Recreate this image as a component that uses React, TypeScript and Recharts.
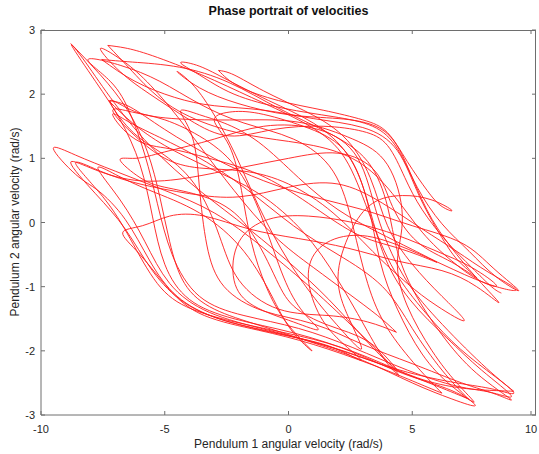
import { LineChart, Line, XAxis, YAxis } from 'recharts';

type Pt = [number, number];

const xTicks = [-10, -5, 0, 5, 10];
const yTicks = [-3, -2, -1, 0, 1, 2, 3];

// trajectory, split into consecutive pieces
const swingA: Pt[] = [
  [-8.8, 2.79], [-7.6, 2.3], [-6.5, 1.75], [-5.7, 1.1], [-5.2, 0.4], [-4.8, -0.3], [-4.2, -0.95], [-3.0, -1.35],
  [-1.2, -1.6], [0.8, -1.85], [3.0, -2.15], [5.0, -2.5], [6.6, -2.75], [7.55, -2.85],
  [6.6, -2.55], [5.4, -2.05], [4.4, -1.35], [3.7, -0.6], [3.2, 0.3], [2.4, 1.05], [1.0, 1.55], [-0.8, 1.9],
  [-2.6, 2.25], [-3.7, 2.45], [-4.36, 2.49],
  [-3.6, 2.3], [-2.2, 2.0], [-0.2, 1.78], [1.8, 1.65], [3.4, 1.5], [4.4, 1.15], [5.2, 0.55], [6.2, -0.02],
  [7.3, -0.45], [8.4, -0.85], [9.3, -1.06],
  [8.3, -0.72], [7.0, -0.32], [5.0, -0.05], [3.0, 0.2], [1.0, 0.4], [-1.0, 0.65], [-3.0, 1.0], [-5.0, 1.45],
  [-6.4, 1.8], [-7.27, 1.9],
];

const swingB: Pt[] = [
  [-7.27, 1.9], [-6.3, 1.55], [-5.0, 1.2], [-3.2, 0.85], [-1.2, 0.45], [0.6, -0.15], [2.0, -0.9], [3.2, -1.7],
  [4.0, -2.2], [4.44, -2.37],
  [3.6, -2.0], [2.4, -1.55], [1.0, -1.05], [-1.0, -0.4], [-3.0, 0.15], [-5.0, 0.5], [-7.0, 0.8], [-8.6, 1.05],
  [-9.5, 1.15],
  [-8.6, 0.75], [-7.7, 0.5], [-6.6, 0.05], [-5.6, -0.6], [-4.5, -1.15], [-2.8, -1.5], [-0.5, -1.72], [2.0, -1.98],
  [4.5, -2.3], [6.8, -2.5], [8.3, -2.6], [9.1, -2.65],
  [8.0, -2.3], [6.6, -1.85], [5.2, -1.25], [4.0, -0.55], [3.0, 0.4], [2.0, 1.15], [0.4, 1.6], [-1.5, 1.95],
  [-3.5, 2.3], [-5.5, 2.6], [-6.6, 2.72], [-7.3, 2.76],
];

const swingC: Pt[] = [
  [-7.3, 2.76], [-6.3, 2.35], [-4.9, 1.85], [-3.0, 1.5], [-1.0, 1.32], [1.0, 1.2], [2.8, 0.95], [4.2, 0.45],
  [5.4, -0.15], [6.6, -0.6], [7.7, -0.9], [8.4, -0.98],
  [7.4, -0.7], [6.0, -0.45], [4.4, -0.2], [2.6, 0.0], [0.8, 0.1], [-0.8, 0.05], [-2.0, -0.3], [-2.2, -0.9],
  [-1.4, -1.3], [0.2, -1.55], [1.2, -1.67],
  [0.6, -1.4], [-0.2, -0.85], [-1.0, 0.0], [-2.0, 0.8], [-3.4, 1.3], [-5.0, 1.6], [-6.3, 1.72], [-7.1, 1.74],
  [-6.2, 1.35], [-5.0, 1.0], [-3.6, 0.85], [-1.8, 0.8], [0.0, 0.6], [1.8, 0.15], [3.4, -0.45], [4.8, -0.95],
  [6.0, -1.3], [7.1, -1.53],
  [6.2, -1.15], [5.0, -0.65], [4.0, -0.05], [3.3, 0.7], [2.2, 1.35], [0.6, 1.75], [-1.0, 2.05], [-2.2, 2.3],
  [-2.83, 2.37],
];

const swingD: Pt[] = [
  [-2.83, 2.37], [-2.0, 2.12], [-0.4, 1.9], [1.4, 1.75], [3.0, 1.6], [4.0, 1.4], [4.8, 0.95], [5.6, 0.5],
  [6.2, 0.25], [6.6, 0.19],
  [5.8, 0.35], [4.6, 0.42], [3.4, 0.3], [2.5, -0.15], [2.0, -0.85], [2.45, -1.5], [2.95, -1.97],
  [2.2, -1.7], [1.2, -1.25], [0.0, -0.6], [-1.2, 0.25], [-2.2, 1.1], [-3.2, 1.8], [-4.0, 2.2], [-4.5, 2.35],
  [-3.6, 2.1], [-2.0, 1.85], [0.0, 1.68], [2.0, 1.62], [3.4, 1.52], [4.3, 1.25], [5.0, 0.7], [5.8, 0.05],
  [6.8, -0.5], [7.8, -0.95], [8.5, -1.25],
  [7.6, -1.0], [6.2, -0.75], [4.4, -0.6], [2.4, -0.4], [0.4, -0.25], [-1.6, -0.1], [-3.4, 0.1], [-4.8, 0.1],
  [-5.9, -0.05], [-6.7, -0.16],
  [-6.0, -0.5], [-4.8, -1.05], [-3.4, -1.45], [-1.2, -1.68], [1.0, -1.9], [3.4, -2.22], [5.2, -2.5], [6.2, -2.66],
];

const swingE: Pt[] = [
  [6.2, -2.66], [5.2, -2.25], [4.0, -1.65], [3.2, -0.95], [2.6, -0.05], [1.8, 0.8], [0.2, 1.3], [-1.8, 1.55],
  [-3.6, 1.85], [-5.2, 2.2], [-6.8, 2.45], [-8.1, 2.54],
  [-7.2, 2.2], [-6.4, 1.7], [-5.8, 1.05], [-5.3, 0.3], [-4.7, -0.5], [-3.6, -1.15], [-1.8, -1.45], [0.4, -1.65],
  [2.6, -1.95], [4.8, -2.3], [6.8, -2.55], [8.2, -2.65], [9.0, -2.7],
  [7.8, -2.3], [6.4, -1.8], [4.9, -1.2], [3.8, -0.45], [3.1, 0.45], [2.2, 1.15], [0.6, 1.5], [-1.2, 1.7],
  [-2.4, 1.72], [-3.0, 1.59],
  [-2.4, 1.2], [-1.9, 0.5], [-1.5, -0.3], [-0.9, -1.0], [0.0, -1.6], [0.95, -2.0],
  [0.2, -1.72], [-0.6, -1.2], [-1.8, -0.45], [-3.6, 0.15], [-5.6, 0.5], [-7.0, 0.75], [-7.7, 0.84],
  [-6.8, 0.35], [-5.8, -0.3], [-4.8, -0.95], [-3.2, -1.4], [-0.8, -1.68], [1.8, -1.95], [4.0, -2.25],
  [6.0, -2.55], [7.27, -2.75],
];

const swingF: Pt[] = [
  [7.27, -2.75], [6.2, -2.3], [5.0, -1.65], [3.8, -1.0], [2.0, -0.5], [0.2, -0.05], [-1.8, 0.55], [-3.8, 1.05],
  [-5.6, 1.4], [-6.6, 1.6], [-7.1, 1.67],
  [-6.2, 1.3], [-4.8, 1.15], [-3.2, 1.0], [-1.2, 0.75], [0.8, 0.3], [2.6, -0.15], [4.0, -0.35], [5.2, -0.5],
  [6.0, -0.62],
  [5.0, -0.42], [3.6, -0.15], [2.0, 0.2], [0.4, 0.7], [-1.2, 1.25], [-2.6, 1.55], [-3.6, 1.68], [-4.36, 1.74],
  [-3.9, 1.35], [-3.6, 0.55], [-3.3, -0.35], [-2.6, -1.0], [-1.0, -1.38], [1.0, -1.58], [3.0, -1.9], [5.0, -2.2],
  [7.0, -2.5], [8.4, -2.68], [8.97, -2.75],
  [7.6, -2.35], [6.2, -1.75], [5.1, -1.1], [4.4, -0.45], [4.0, 0.25], [3.2, 0.95], [1.6, 1.4], [-0.4, 1.78],
  [-2.4, 2.18], [-4.4, 2.42], [-6.3, 2.5], [-7.55, 2.54],
];

const swingG: Pt[] = [
  [-7.55, 2.54], [-6.2, 2.2], [-4.6, 1.95], [-3.0, 1.82], [-1.0, 1.75], [1.0, 1.62], [3.0, 1.48], [4.4, 1.12],
  [5.3, 0.4], [6.3, -0.3], [7.0, -0.65], [7.6, -0.86],
  [6.6, -0.62], [5.2, -0.3], [4.2, 0.25], [3.5, 0.8], [2.0, 1.08], [0.0, 1.0], [-2.0, 0.85], [-4.0, 0.7],
  [-6.0, 0.65], [-7.8, 0.82], [-8.8, 0.93],
  [-7.8, 0.45], [-6.6, -0.1], [-5.5, -0.75], [-4.2, -1.25], [-2.4, -1.55], [0.0, -1.77], [1.8, -1.95], [2.95, -2.15],
  [2.1, -1.85], [1.2, -1.4], [0.8, -0.8], [1.4, -0.35], [2.8, -0.2], [4.4, -0.35], [6.2, -0.65], [8.0, -0.95],
  [9.2, -1.05],
  [8.1, -0.78], [6.8, -0.45], [5.4, -0.1], [3.8, 0.3], [2.0, 0.6], [0.0, 0.55], [-2.0, 0.4], [-4.0, 0.45],
  [-6.0, 0.6], [-7.6, 0.8], [-8.6, 0.92],
  [-7.5, 0.4], [-6.4, -0.25], [-5.3, -0.95], [-3.9, -1.35], [-1.6, -1.6], [1.0, -1.82], [3.2, -2.1], [5.2, -2.42],
  [7.0, -2.58], [8.4, -2.62], [9.1, -2.63],
];

const swingH: Pt[] = [
  [9.1, -2.63], [7.8, -2.2], [6.0, -1.5], [4.6, -0.8], [3.6, 0.1], [2.8, 1.0], [1.2, 1.45], [-1.0, 1.5],
  [-3.0, 1.3], [-5.0, 1.1], [-6.2, 1.0], [-6.8, 0.97],
  [-6.0, 0.7], [-5.0, 0.55], [-3.4, 0.4], [-1.8, 0.0], [-0.6, -0.8], [0.2, -1.3], [1.6, -1.6], [3.2, -1.85],
  [4.4, -2.3],
];

const swingI: Pt[] = [
  [4.4, -2.3], [3.4, -1.95], [2.0, -1.35], [0.4, -0.75], [-1.6, -0.1], [-3.6, 0.5], [-5.6, 1.2], [-7.2, 1.95],
  [-8.3, 2.55], [-8.75, 2.75],
  [-7.8, 2.2], [-6.8, 1.6], [-6.0, 0.9], [-5.5, 0.1], [-5.0, -0.65], [-4.0, -1.2], [-2.2, -1.5], [0.2, -1.72],
  [2.6, -2.02], [4.6, -2.35], [6.6, -2.62], [7.5, -2.8],
  [6.8, -2.5], [5.8, -2.0], [4.8, -1.3], [4.4, -0.6], [4.6, 0.1], [4.0, 0.9], [2.6, 1.3], [0.6, 1.55],
  [-1.4, 1.6], [-3.4, 1.6], [-5.4, 1.65], [-6.6, 1.8], [-7.2, 1.88],
  [-6.4, 1.45], [-5.2, 1.1], [-3.8, 0.6], [-2.8, -0.2], [-2.0, -0.9], [-0.4, -1.35], [1.6, -1.45], [3.2, -1.55],
  [4.36, -1.71],
];

const swingJ: Pt[] = [
  [4.36, -1.71], [3.6, -1.45], [2.4, -1.1], [1.0, -0.7], [-0.6, -0.2], [-2.2, 0.5], [-3.6, 1.2], [-4.8, 1.8],
  [-6.0, 2.3], [-7.0, 2.6], [-7.6, 2.7],
  [-6.8, 2.35], [-5.6, 2.0], [-4.0, 1.6], [-2.4, 1.35], [-0.6, 1.45], [1.4, 1.5], [3.0, 1.42], [4.0, 1.2],
  [4.7, 0.7], [5.4, 0.2], [6.4, -0.3], [7.4, -0.7], [8.2, -1.0], [8.6, -1.1],
];

const swings = [swingA, swingB, swingC, swingD, swingE, swingF, swingG, swingH, swingI, swingJ];

const FRAME = '#6e6e6e';
const PLOT_LEFT = 41;
const PLOT_TOP = 30;
const PLOT_RIGHT = 536;
const PLOT_BOTTOM = 415;

const XTick = (props: any) => {
  const { x, y, payload } = props;
  return (
    <g>
      <line x1={x} x2={x} y1={y} y2={y - 4} stroke={FRAME} />
      <line x1={x} x2={x} y1={PLOT_TOP} y2={PLOT_TOP + 4} stroke={FRAME} />
      <text x={x} y={y + 18} textAnchor="middle" fontSize={11} fill="#262626">
        {payload.value}
      </text>
    </g>
  );
};

const YTick = (props: any) => {
  const { x, y, payload } = props;
  return (
    <g>
      <line x1={x + 6} x2={x + 10} y1={y} y2={y} stroke={FRAME} />
      <line x1={PLOT_RIGHT - 4} x2={PLOT_RIGHT} y1={y} y2={y} stroke={FRAME} />
      <text x={x} y={y + 4} textAnchor="end" fontSize={11} fill="#262626">
        {payload.value}
      </text>
    </g>
  );
};

export default function App() {
  return (
    <div
      style={{
        position: 'absolute',
        left: 0,
        top: 0,
        width: 539,
        height: 454,
        background: '#fff',
        fontFamily: '"Liberation Sans", Arial, sans-serif',
      }}
    >
      <LineChart width={539} height={454} margin={{ top: 30, right: 3, left: 0, bottom: 0 }}>
        <XAxis
          type="number"
          dataKey="x"
          domain={[-10, 10]}
          ticks={xTicks}
          allowDataOverflow
          height={39}
          tickSize={0}
          tickMargin={0}
          tick={<XTick />}
          axisLine={{ stroke: FRAME }}
        />
        <YAxis
          type="number"
          dataKey="y"
          domain={[-3, 3]}
          ticks={yTicks}
          allowDataOverflow
          width={41}
          tickSize={0}
          tickMargin={6}
          tick={<YTick />}
          axisLine={{ stroke: FRAME }}
        />
        {swings.map((s, i) => (
          <Line
            key={i}
            data={s.map(([x, y]) => ({ x, y }))}
            dataKey="y"
            type="natural"
            stroke="#ff1a1a"
            strokeWidth={0.9}
            dot={false}
            activeDot={false}
            isAnimationActive={false}
          />
        ))}
      </LineChart>
      {/* top and right sides of the box */}
      <div
        style={{
          position: 'absolute',
          left: PLOT_LEFT,
          top: PLOT_TOP,
          width: PLOT_RIGHT - PLOT_LEFT,
          height: PLOT_BOTTOM - PLOT_TOP,
          borderTop: `1px solid ${FRAME}`,
          borderRight: `1px solid ${FRAME}`,
          boxSizing: 'border-box',
          pointerEvents: 'none',
        }}
      />
      <div
        style={{
          position: 'absolute',
          left: 41,
          width: 495,
          top: 4,
          textAlign: 'center',
          fontWeight: 'bold',
          fontSize: 12.5,
          color: '#111',
        }}
      >
        Phase portrait of velocities
      </div>
      <div
        style={{
          position: 'absolute',
          left: 41,
          width: 495,
          top: 437,
          textAlign: 'center',
          fontSize: 12,
          color: '#262626',
        }}
      >
        Pendulum 1 angular velocity (rad/s)
      </div>
      <div
        style={{
          position: 'absolute',
          left: 15,
          top: 222,
          transform: 'translate(-50%, -50%) rotate(-90deg)',
          whiteSpace: 'nowrap',
          fontSize: 12,
          color: '#262626',
        }}
      >
        Pendulum 2 angular velocity (rad/s)
      </div>
    </div>
  );
}
